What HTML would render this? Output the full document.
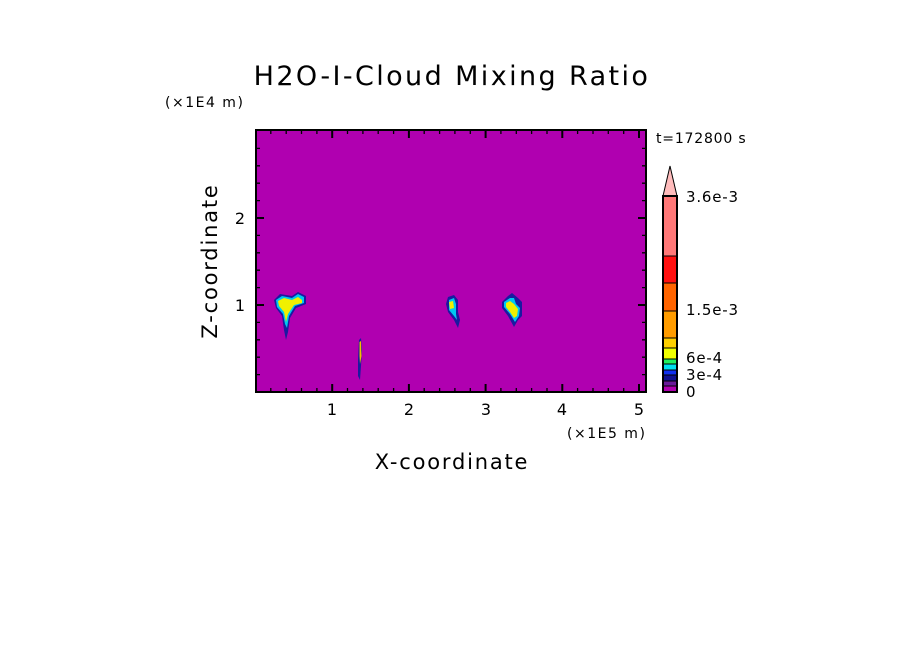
<!DOCTYPE html>
<html><head><style>
body{margin:0;background:#fff;}
svg{display:block;font-family:"DejaVu Sans","Liberation Sans",sans-serif;}
</style></head><body>
<svg width="904" height="654" viewBox="0 0 904 654" xmlns="http://www.w3.org/2000/svg">
<rect width="904" height="654" fill="#fff"/>
<text x="452" y="85" font-size="27" text-anchor="middle" fill="#000" letter-spacing="2.4">H2O-I-Cloud Mixing Ratio</text>
<text x="165" y="107" font-size="14" fill="#000" letter-spacing="1.5">(×1E4 m)</text>
<text x="656" y="143" font-size="14" fill="#000" letter-spacing="0.8">t=172800 s</text>
<rect x="256" y="130" width="390" height="262" fill="#b000b0"/>
<path d="M274,300 L280,294 L292,296 L298,292 L306,296 L306,304 L296,308 L290,318 L288,332 L286,340 L284,330 L282,316 L276,308 Z" fill="#1a1aa0"/>
<path d="M276,300 L282,296 L292,298 L298,294 L304,297 L304,303 L295,306 L289,316 L287,328 L285,324 L283,314 L277,307 Z" fill="#00c8f0"/>
<path d="M278,301 L284,298 L292,300 L298,297 L302,300 L302,303 L294,305 L288,314 L286,322 L284,312 L279,306 Z" fill="#f0f000"/>
<path d="M359,340 L361,338 L362,350 L361,366 L360,380 L358,376 L358,360 Z" fill="#1a1aa0"/>
<path d="M359.5,342 L361,341 L361.5,356 L360,364 L359.5,356 Z" fill="#f0c000"/>
<path d="M448,297 L454,295 L458,300 L458,312 L460,320 L458,328 L454,320 L448,312 L446,304 Z" fill="#1a1aa0"/>
<path d="M449,300 L454,298 L456,304 L456,314 L457,320 L454,316 L449,310 Z" fill="#00c8f0"/>
<path d="M449,302 L453,301 L454,308 L450,309 Z" fill="#f0f000"/>
<path d="M502,302 L508,296 L512,293 L518,298 L522,302 L522,316 L518,320 L514,327 L508,316 L502,308 Z" fill="#1a1aa0"/>
<path d="M504,302 L510,298 L514,298 L516,304 L520,308 L519,316 L515,322 L510,314 L504,307 Z" fill="#00c8f0"/>
<path d="M506,303 L510,301 L514,304 L518,309 L517,316 L514,318 L510,312 L506,307 Z" fill="#f0f000"/>
<rect x="256" y="130" width="390" height="262" fill="none" stroke="#000" stroke-width="2"/>
<g stroke="#000" stroke-width="1.3">
<path d="M270.8,392v-4M286.2,392v-4M301.5,392v-4M316.9,392v-4M347.5,392v-4M362.9,392v-4M378.2,392v-4M393.6,392v-4M424.2,392v-4M439.6,392v-4M454.9,392v-4M470.3,392v-4M500.9,392v-4M516.3,392v-4M531.6,392v-4M547,392v-4M577.6,392v-4M593,392v-4M608.3,392v-4M623.7,392v-4"/>
<path d="M270.8,130v4M286.2,130v4M301.5,130v4M316.9,130v4M347.5,130v4M362.9,130v4M378.2,130v4M393.6,130v4M424.2,130v4M439.6,130v4M454.9,130v4M470.3,130v4M500.9,130v4M516.3,130v4M531.6,130v4M547,130v4M577.6,130v4M593,130v4M608.3,130v4M623.7,130v4"/>
<path d="M332.2,392v-8M408.9,392v-8M485.6,392v-8M562.3,392v-8M639,392v-8M332.2,130v8M408.9,130v8M485.6,130v8M562.3,130v8M639,130v8" stroke-width="2"/>
<path d="M256,374.6h4M256,357.2h4M256,339.8h4M256,322.4h4M256,287.6h4M256,270.2h4M256,252.8h4M256,235.4h4M256,200.6h4M256,183.2h4M256,165.8h4M256,148.4h4"/>
<path d="M646,374.6h-4M646,357.2h-4M646,339.8h-4M646,322.4h-4M646,287.6h-4M646,270.2h-4M646,252.8h-4M646,235.4h-4M646,200.6h-4M646,183.2h-4M646,165.8h-4M646,148.4h-4"/>
<path d="M256,305h8M256,218h8M646,305h-8M646,218h-8" stroke-width="2"/>
</g>
<g font-size="16" fill="#000" text-anchor="middle">
<text x="332" y="415">1</text><text x="409" y="415">2</text><text x="486" y="415">3</text><text x="562" y="415">4</text><text x="639" y="415">5</text>
<text x="240" y="311">1</text><text x="240" y="224">2</text>
</g>
<text x="567" y="438" font-size="14" fill="#000" letter-spacing="1.5">(×1E5 m)</text>
<text x="452" y="469" font-size="21" text-anchor="middle" fill="#000" letter-spacing="1.8">X-coordinate</text>
<text transform="translate(217,261) rotate(-90)" font-size="21" text-anchor="middle" fill="#000" letter-spacing="1.8">Z-coordinate</text>
<g stroke="#000" stroke-width="1">
<path d="M663,196 L670,166 L677,196 Z" fill="#ffbcbc"/>
<rect x="663" y="196" width="14" height="60" fill="#ff7878"/>
<rect x="663" y="256" width="14" height="27" fill="#ff1010"/>
<rect x="663" y="283" width="14" height="28" fill="#ff6400"/>
<rect x="663" y="311" width="14" height="27" fill="#ff9c00"/>
<rect x="663" y="338" width="14" height="10" fill="#ffd000"/>
<rect x="663" y="348" width="14" height="11" fill="#f0ff00"/>
<rect x="663" y="359" width="14" height="5" fill="#20f060"/>
<rect x="663" y="364" width="14" height="6" fill="#00e0f0"/>
<rect x="663" y="370" width="14" height="5" fill="#1030f0"/>
<rect x="663" y="375" width="14" height="6" fill="#101090"/>
<rect x="663" y="381" width="14" height="5" fill="#6a1a9a"/>
<rect x="663" y="386" width="14" height="6" fill="#b000b0"/>
</g>
<rect x="663" y="196" width="14" height="196" fill="none" stroke="#000" stroke-width="2"/>
<g font-size="15" fill="#000" letter-spacing="0.8">
<text x="686" y="202">3.6e-3</text>
<text x="686" y="315">1.5e-3</text>
<text x="686" y="363">6e-4</text>
<text x="686" y="380">3e-4</text>
<text x="686" y="397">0</text>
</g>
</svg>
</body></html>
